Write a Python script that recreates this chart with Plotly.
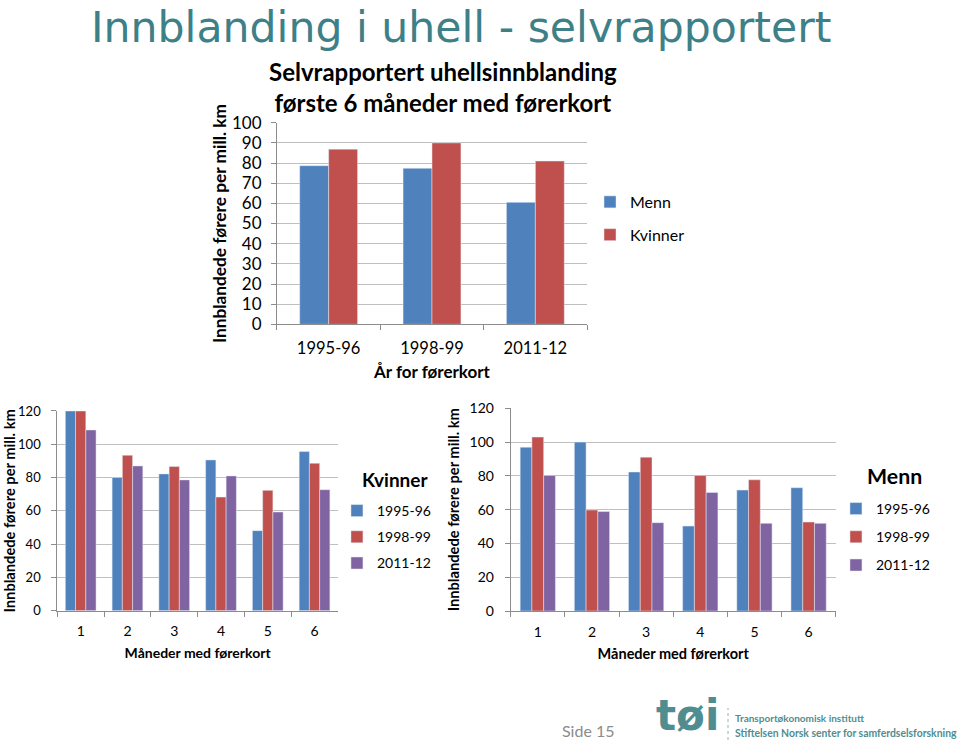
import plotly.graph_objects as go

# ---------------- data ----------------
periods = ["1995-96", "1998-99", "2011-12"]
top_menn = [78.7, 77.4, 60.5]
top_kvinner = [86.9, 90.0, 81.0]

months = ["1", "2", "3", "4", "5", "6"]
kvinner_1995 = [120, 80.0, 82.2, 90.6, 48.1, 95.6]
kvinner_1998 = [120, 93.4, 86.6, 68.3, 72.3, 88.6]
kvinner_2011 = [108.6, 87.0, 78.6, 81.0, 59.3, 72.7]

menn_1995 = [97.0, 100.0, 82.3, 50.3, 71.6, 73.0]
menn_1998 = [103.0, 59.8, 91.1, 80.3, 77.7, 52.7]
menn_2011 = [80.3, 58.9, 52.3, 70.2, 51.9, 51.9]

series_names = ["1995-96", "1998-99", "2011-12"]

# ---------------- style ----------------
BLUE = "#4f81bd"
RED = "#c0504d"
PURPLE = "#8064a2"
GRID = "#bfbfbf"
AXIS = "#8c8c8c"
FONT = "Lato, Carlito, 'Open Sans', sans-serif"
TEAL = "#3d8087"
LOGO = "#4f8d90"

fig = go.Figure()

# top chart
w_top = 0.28
fig.add_trace(go.Bar(x=periods, y=top_menn, name="Menn", marker_color=BLUE,
                     width=w_top, offset=-w_top, xaxis="x", yaxis="y",
                     legend="legend", legendgroup="m"))
fig.add_trace(go.Bar(x=periods, y=top_kvinner, name="Kvinner", marker_color=RED,
                     width=w_top, offset=0, xaxis="x", yaxis="y",
                     legend="legend", legendgroup="k"))

# bottom-left (Kvinner)
w_bl = 0.219
for i, (vals, col) in enumerate(zip([kvinner_1995, kvinner_1998, kvinner_2011],
                                    [BLUE, RED, PURPLE])):
    fig.add_trace(go.Bar(x=months, y=vals, name=series_names[i], marker_color=col,
                         width=w_bl, offset=(-1.5 + i) * w_bl,
                         xaxis="x2", yaxis="y2", legend="legend2",
                         legendgroup="k%d" % i))

# bottom-right (Menn)
w_br = 0.217
for i, (vals, col) in enumerate(zip([menn_1995, menn_1998, menn_2011],
                                    [BLUE, RED, PURPLE])):
    fig.add_trace(go.Bar(x=months, y=vals, name=series_names[i], marker_color=col,
                         width=w_br, offset=(-1.5 + i) * w_br,
                         xaxis="x3", yaxis="y3", legend="legend3",
                         legendgroup="m%d" % i))

def xax(domain, anchor, size, standoff, title, tsize, tstand):
    return dict(domain=domain, anchor=anchor, type="category", automargin=False,
                showline=True, linecolor=AXIS, linewidth=1,
                ticks="outside", tickson="boundaries", ticklen=5, tickcolor=AXIS,
                tickfont=dict(size=size, color="#000", family=FONT),
                ticklabelstandoff=standoff, showgrid=False,
                title=dict(text=title, font=dict(size=tsize, family=FONT, weight="bold",
                                                 color="#000"),
                           standoff=tstand))

def yax(domain, anchor, rng, dtick, size, title, tsize, tstand, lstand=8):
    return dict(domain=domain, anchor=anchor, range=rng, dtick=dtick, automargin=False,
                showline=True, linecolor=AXIS, linewidth=1,
                ticks="outside", ticklen=5, tickcolor=AXIS,
                tickfont=dict(size=size, color="#000", family=FONT),
                ticklabelstandoff=lstand,
                showgrid=True, gridcolor=GRID, gridwidth=1, zeroline=False,
                title=dict(text=title, font=dict(size=tsize, family=FONT, weight="bold",
                                                 color="#000"),
                           standoff=tstand))

ytitle = "Innblandede førere per mill. km"

fig.update_layout(
    width=960, height=742,
    margin=dict(l=0, r=0, t=0, b=0),
    paper_bgcolor="white", plot_bgcolor="white",
    barmode="overlay",
    font=dict(family=FONT, color="#000"),
    xaxis=xax([0.2885, 0.6115], "y", 16.5, 9, "År for førerkort", 17, 8),
    yaxis=yax([0.5629, 0.8346], "x", [0, 100], 10, 17, ytitle, 17.3, 0, lstand=6),
    xaxis2=xax([0.0597, 0.352], "y2", 14, 8, "Måneder med førerkort", 14, 9),
    yaxis2=yax([0.177, 0.4461], "x2", [0, 120], 20, 13, ytitle, 14.7, 4),
    xaxis3=xax([0.532, 0.8705], "y3", 14, 8, "Måneder med førerkort", 14.5, 10),
    yaxis3=yax([0.1765, 0.4497], "x3", [0, 120], 20, 14, ytitle, 14.7, 6),
    legend=dict(x=0.6146, y=0.7507, xanchor="left", yanchor="top",
                font=dict(size=16, family=FONT), tracegroupgap=9,
                bgcolor="rgba(0,0,0,0)"),
    legend2=dict(x=0.351, y=0.3329, xanchor="left", yanchor="top",
                 font=dict(size=14, family=FONT), tracegroupgap=5,
                 bgcolor="rgba(0,0,0,0)"),
    legend3=dict(x=0.8708, y=0.3356, xanchor="left", yanchor="top",
                 font=dict(size=14, family=FONT), tracegroupgap=7,
                 bgcolor="rgba(0,0,0,0)"),
    showlegend=True,
)

# legend headings
fig.add_annotation(text="Kvinner", xref="paper", yref="paper", x=360 / 960, y=1 - 480 / 742,
                   xanchor="left", yanchor="middle", showarrow=False,
                   font=dict(size=19, family=FONT, weight="bold", color="#000"))
fig.add_annotation(text="Menn", xref="paper", yref="paper", x=865 / 960, y=1 - 476 / 742,
                   xanchor="left", yanchor="middle", showarrow=False,
                   font=dict(size=21.3, family=FONT, weight="bold", color="#000"))

# slide title
fig.add_annotation(text="Innblanding i uhell - selvrapportert", xref="paper", yref="paper",
                   x=461 / 960, y=1, xanchor="center", yanchor="top",
                   showarrow=False,
                   font=dict(size=42.6, family="'DejaVu Sans', sans-serif",
                             color=TEAL))

# chart title
fig.add_annotation(text="Selvrapportert uhellsinnblanding<br>første 6 måneder med førerkort",
                   xref="paper", yref="paper", x=443 / 960, y=1 - 87 / 742,
                   xanchor="center", yanchor="middle", showarrow=False,
                   font=dict(size=24, family=FONT, weight="bold", color="#000"))

# footer
fig.add_annotation(text="Side 15", xref="paper", yref="paper", x=588 / 960, y=1 - 730 / 742,
                   xanchor="center", yanchor="middle", showarrow=False,
                   font=dict(size=16, family=FONT, color="#8c8c8c"))
fig.add_annotation(text="tøi", xref="paper", yref="paper", x=687 / 960, y=0,
                   xanchor="center", yanchor="bottom", showarrow=False,
                   font=dict(size=42, family="'DejaVu Sans', sans-serif", weight="bold",
                             color=LOGO))
fig.add_shape(type="line", xref="paper", yref="paper", x0=728 / 960, x1=728 / 960,
              y0=1 - 740 / 742, y1=1 - 708 / 742,
              line=dict(color="#8fb5b7", width=1, dash="dot"))
fig.add_annotation(text="Transportøkonomisk institutt", xref="paper", yref="paper",
                   x=733 / 960, y=1 - 718 / 742, xanchor="left", yanchor="middle",
                   showarrow=False, font=dict(size=10, family=FONT, weight="bold", color=LOGO))
fig.add_annotation(text="Stiftelsen Norsk senter for samferdselsforskning", xref="paper",
                   yref="paper", x=733 / 960, y=1 - 733 / 742, xanchor="left",
                   yanchor="middle", showarrow=False,
                   font=dict(size=10.4, family=FONT, weight="bold", color=LOGO))

fig.write_html("out.html")
